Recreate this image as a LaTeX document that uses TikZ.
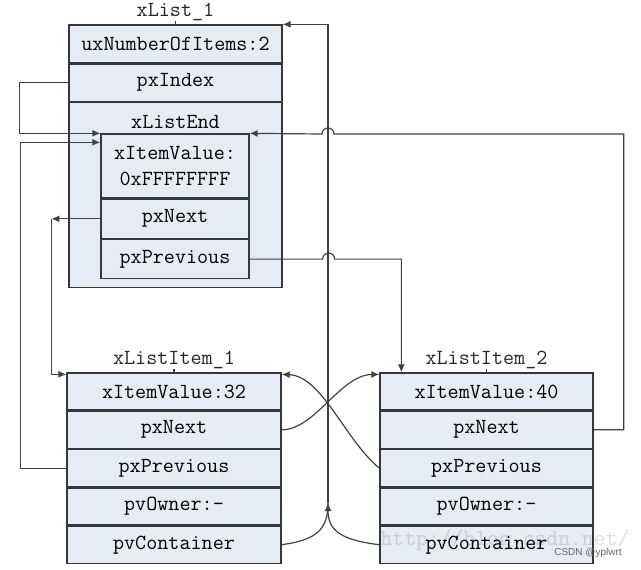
\documentclass[tikz,border=0pt]{standalone}
\usepackage{fontspec}
\newfontfamily\markfont{Liberation Sans}
\usetikzlibrary{positioning,arrows.meta}
\definecolor{cellfill}{RGB}{230,236,246}
\definecolor{cellline}{RGB}{55,55,55}
\definecolor{wire}{RGB}{65,65,65}
\tikzset{
  cell/.style={draw=cellline,fill=cellfill,line width=1.3pt,minimum width=214pt,
    minimum height=37pt,inner sep=0pt,font=\ttfamily\fontsize{21.5}{26}\selectfont},
  inner/.style={cell,minimum width=148pt,minimum height=39pt},
  title/.style={inner sep=0pt,font=\ttfamily\fontsize{21.5}{26}\selectfont,text=black!85},
  wire/.style={draw=wire,line width=1.2pt},
  arr/.style={wire,-{Latex[length=8pt,width=7pt]}}
}
\begin{document}
\begin{tikzpicture}[x=1pt,y=-1pt]
\useasboundingbox (0,0) rectangle (641,570);
% xList_1
\node[cell,minimum width=213pt,minimum height=38pt] (cnt) at (175.5,44) {uxNumberOfItems:2};
\node[cell,minimum width=213pt,below=0pt of cnt] (idx) {pxIndex};
\node[cell,minimum width=213pt,minimum height=185pt,below=0pt of idx] (lend) {};
\node[title,text=black] (lendtxt) at ([yshift=-20pt]lend.north) {xListEnd};
\node[inner,minimum height=64pt,align=center] (ival) at (175,166) {xItemValue:\\0xFFFFFFFF};
\node[inner,below=0pt of ival] (enx) {pxNext};
\node[inner,below=0pt of enx] (epr) {pxPrevious};
\node[title,above=3pt of cnt] (lt) {xList\_1};
\draw[wire] (lt.south) -- (cnt.north);
% xListItem_1
\node[cell] (i1v) at (174,391.5) {xItemValue:32};
\node[cell,below=0pt of i1v] (i1n) {pxNext};
\node[cell,below=0pt of i1n] (i1p) {pxPrevious};
\node[cell,below=0pt of i1p] (i1o) {pvOwner:-};
\node[cell,below=0pt of i1o] (i1c) {pvContainer};
\node[title,above=3pt of i1v] (t1) {xListItem\_1};
\draw[wire] (t1.south) -- (i1v.north);
% xListItem_2
\node[cell,minimum width=213pt] (i2v) at (486.5,391.5) {xItemValue:40};
\node[cell,minimum width=213pt,below=0pt of i2v] (i2n) {pxNext};
\node[cell,minimum width=213pt,below=0pt of i2n] (i2p) {pxPrevious};
\node[cell,minimum width=213pt,below=0pt of i2p] (i2o) {pvOwner:-};
\node[cell,minimum width=213pt,below=0pt of i2o] (i2c) {pvContainer};
\node[title,above=3pt of i2v] (t2) {xListItem\_2};
\draw[wire] (t2.south) -- (i2v.north);
% pointers
\coordinate (bus) at (328,503);
\draw[wire] (i1c.east) .. controls (316,540) and (328,530) .. (bus);
\draw[arr] (i2c.west) .. controls (340,540) and (328,530) .. (bus);
\draw[arr] (bus) |- (cnt.north east);
\draw[arr] (idx.west) -- ++(-49,0) |- (ival.north west);
\draw[arr] (i1p.west) -- ++(-46,0) |- ([yshift=-9pt]ival.north west);
\draw[arr] (enx.west) -- ++(-49,0) coordinate (nx);
\draw[arr] (nx) |- ([yshift=-2pt]i1v.north west);
\draw[arr] (i2n.east) -- ++(30,0) |- (334,134)
    arc[start angle=0,end angle=180,radius=6pt] -- (ival.north east);
\draw[arr] (epr.east) -- ++(73,0) arc[start angle=180,end angle=0,radius=6pt]
    -| ([xshift=22pt]i2v.north west);
\draw[arr] (i1n.east) .. controls (315,430) and (340,375) .. ([yshift=-2pt]i2v.north west);
\draw[arr] (i2p.west) .. controls (345,440) and (322,376) .. ([yshift=-2pt]i1v.north east);
% watermark
\node[font=\ttfamily\fontsize{23}{23}\selectfont,text=black,text opacity=0.13] (wm) at (505,540) {http://blog.csdn.net/};
\node[font=\markfont\fontsize{10}{10}\selectfont,text=black!60] (csdn) at (588,553) {CSDN @yplwrt};
\end{tikzpicture}
\end{document}
